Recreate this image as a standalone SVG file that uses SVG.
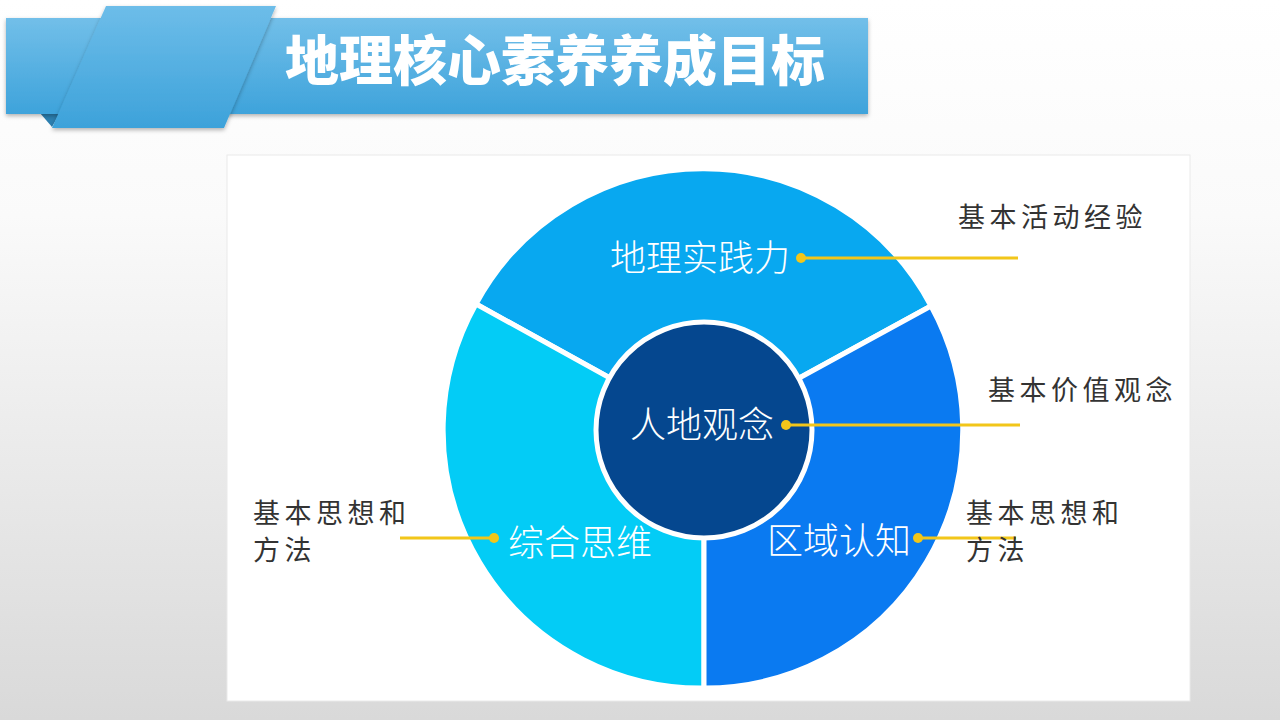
<svg xmlns="http://www.w3.org/2000/svg" width="1280" height="720" viewBox="0 0 1280 720">
<defs>
<linearGradient id="bg" x1="0" y1="0" x2="0" y2="1">
<stop offset="0" stop-color="#ffffff"/>
<stop offset="0.3" stop-color="#fafafa"/>
<stop offset="1" stop-color="#d9d9d9"/>
</linearGradient>
<linearGradient id="bar" x1="0" y1="0" x2="0" y2="1">
<stop offset="0" stop-color="#72bfe9"/>
<stop offset="1" stop-color="#3ea3db"/>
</linearGradient>
<linearGradient id="rib" x1="0" y1="0" x2="0" y2="1">
<stop offset="0" stop-color="#6dbde9"/>
<stop offset="1" stop-color="#3da2da"/>
</linearGradient>
<filter id="sh" x="-5%" y="-10%" width="110%" height="130%">
<feDropShadow dx="0" dy="2" stdDeviation="2" flood-color="#000" flood-opacity="0.3"/>
</filter>
<style>
.seg{stroke:#fff;stroke-width:5;stroke-linejoin:round}
.in{font-family:"Noto Sans CJK SC","Noto Sans",sans-serif;font-size:36px;fill:#fff;font-weight:300}
.lb{font-family:"Noto Sans CJK SC","Noto Sans",sans-serif;font-size:27px;fill:#333;letter-spacing:4.5px}
.ln{stroke:#f2c61a;stroke-width:3;fill:none}
.dot{fill:#f2c61a}
</style>
</defs>
<rect width="1280" height="720" fill="url(#bg)"/>
<g id="title">
<polygon points="40,113 52,127 60,113" fill="#2c7fb0"/>
<rect x="6" y="18" width="862" height="96" fill="url(#bar)" filter="url(#sh)"/>
<polygon points="106,6 276,6 224,128 52,128" fill="url(#rib)" filter="url(#sh)"/>
<text x="555" y="81" text-anchor="middle" font-family="'Noto Sans CJK SC',sans-serif" font-weight="900" font-size="54" fill="#fff">地理核心素养养成目标</text>
</g>
<rect x="227" y="155" width="963" height="546" fill="#fff" stroke="#eaeaea" stroke-width="1"/>
<g id="segments">
<g id="seg-top"><path class="seg" d="M704,430 L476,304 A258,258 0 0 1 931,306 Z" fill="#08a8f0"/></g>
<g id="seg-left"><path class="seg" d="M704,430 L704,688 A258,258 0 0 1 476,304 Z" fill="#03ccf6"/></g>
<g id="seg-right"><path class="seg" d="M704,430 L931,306 A258,258 0 0 1 704,688 Z" fill="#0a7af1"/></g>
<g id="center"><circle cx="704" cy="430" r="108" fill="#05478f" stroke="#fff" stroke-width="5"/></g>
</g>
<g id="connectors">
<line class="ln" x1="801" y1="258" x2="1018" y2="258"/><circle class="dot" cx="801" cy="258" r="5"/>
<line class="ln" x1="786" y1="425" x2="1020" y2="425"/><circle class="dot" cx="786" cy="425" r="5"/>
<line class="ln" x1="400" y1="538" x2="494" y2="538"/><circle class="dot" cx="494" cy="538" r="5"/>
<line class="ln" x1="918" y1="538" x2="1016" y2="538"/><circle class="dot" cx="918" cy="538" r="5"/>
</g>
<g id="inner-labels">
<text class="in" x="700" y="271" text-anchor="middle">地理实践力</text>
<text class="in" x="702" y="438" text-anchor="middle">人地观念</text>
<text class="in" x="580" y="556" text-anchor="middle">综合思维</text>
<text class="in" x="839" y="554" text-anchor="middle">区域认知</text>
</g>
<g id="outer-labels">
<text class="lb" x="958" y="227">基本活动经验</text>
<text class="lb" x="988" y="400">基本价值观念</text>
<text class="lb" x="966" y="523">基本思想和</text>
<text class="lb" x="966" y="560">方法</text>
<text class="lb" x="253" y="523">基本思想和</text>
<text class="lb" x="253" y="560">方法</text>
</g>
</svg>
